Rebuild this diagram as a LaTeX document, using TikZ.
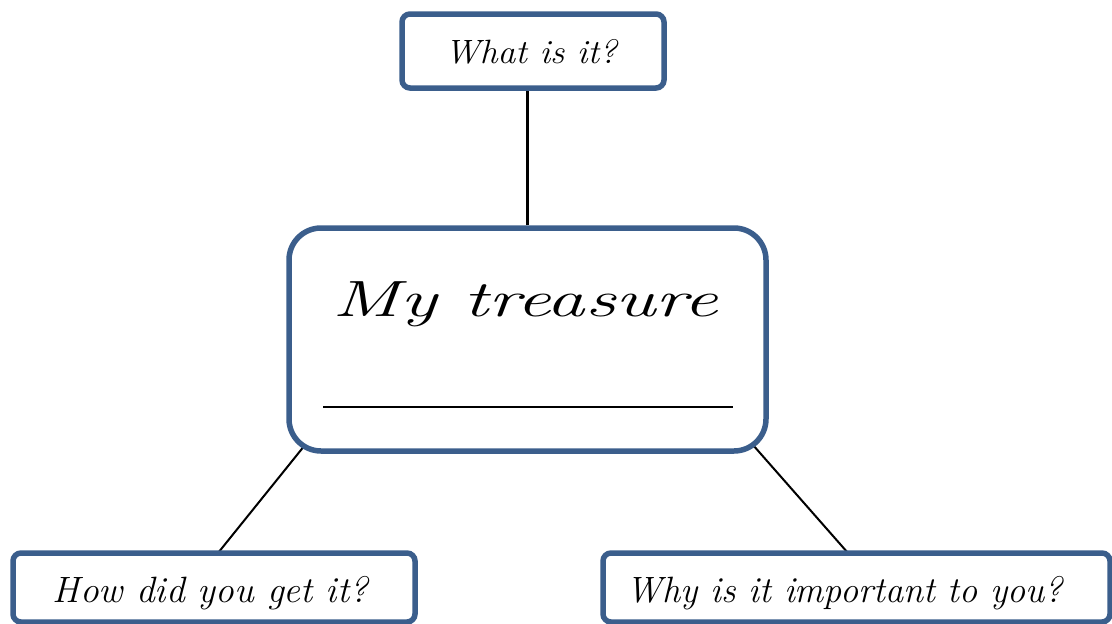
\documentclass[tikz,border=0pt]{standalone}
\usetikzlibrary{backgrounds}
\definecolor{bord}{HTML}{3B5E8C}
\tikzset{
  box/.style={draw=bord, line width=5.5pt, fill=white, rectangle, inner sep=0pt},
  lbl/.style={anchor=base, inner sep=0pt},
  conn/.style={draw=black, line width=2pt},
}
\newcommand{\fitw}[3]{\resizebox{#1}{\height}{\fontsize{#2}{#2}\selectfont\itshape #3}}
\begin{document}
\begin{tikzpicture}[x=1pt,y=-1pt]
\useasboundingbox (0,0) rectangle (1112,624);
\node[box, rounded corners=8pt, minimum width=262pt, minimum height=74pt] (t) at (533,51) {};
\node[box, rounded corners=32pt, minimum width=477pt, minimum height=223pt] (c) at (527.5,339.5) {};
\node[box, rounded corners=8pt, minimum width=402pt, minimum height=69pt] (bl) at (214,587.5) {};
\node[box, rounded corners=8pt, minimum width=507pt, minimum height=69pt] (br) at (856.5,587.5) {};
\node[lbl] (tt) at (531,63) {\fitw{172pt}{33.7pt}{What is it?}};
\node[lbl] (ct) at (525.5,316) {\fitw{385pt}{51pt}{My treasure}};
\node[lbl] (blt) at (210.5,602) {\fitw{315pt}{36.6pt}{How did you get it?}};
\node[lbl] (brt) at (845,602) {\fitw{436pt}{36.6pt}{Why is it important to you?}};
\coordinate (cl) at (305,445);
\coordinate (cr) at (753,445);
\coordinate (bln) at (218,553);
\coordinate (brn) at (848,553);
\draw[line width=2.5pt] (323,407) -- (733,407);
\begin{scope}[on background layer]
\draw[conn, line width=3pt] (c.north) -- (c.north |- t.south);
\draw[conn] (cl) -- (bln);
\draw[conn] (cr) -- (brn);
\end{scope}
\end{tikzpicture}
\end{document}
